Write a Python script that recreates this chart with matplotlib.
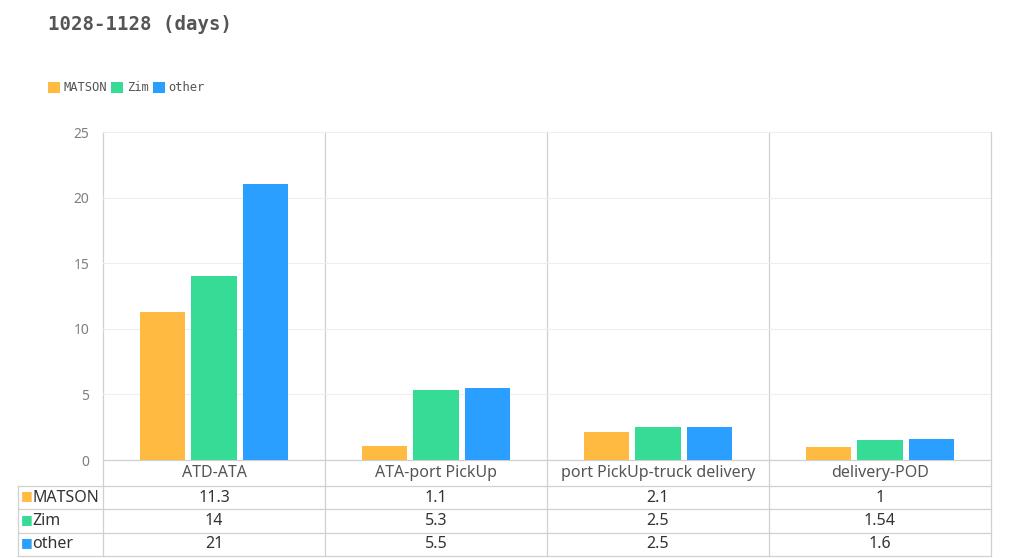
import numpy as np
import matplotlib
matplotlib.use("Agg")
import matplotlib.pyplot as plt
import matplotlib.transforms as mtransforms

# data
categories = ["ATD-ATA", "ATA-port PickUp", "port PickUp-truck delivery", "delivery-POD"]
series_names = ["MATSON", "Zim", "other"]
matson = [11.3, 1.1, 2.1, 1]
zim = [14, 5.3, 2.5, 1.54]
other = [21, 5.5, 2.5, 1.6]
table_text = [["11.3", "1.1", "2.1", "1"],
              ["14", "5.3", "2.5", "1.54"],
              ["21", "5.5", "2.5", "1.6"]]
yticks = [0, 5, 10, 15, 20, 25]

colors = ["#FFBA41", "#36DB95", "#2A9FFF"]
W, H = 1019, 558

fig = plt.figure(figsize=(W / 100, H / 100), dpi=100)
ax = fig.add_axes([103 / W, 1 - 460 / H, 888 / W, 328 / H])

x = np.arange(len(categories))
offsets = [-0.23, 0.0, 0.23]
bw = 0.203
bars = []
for vals, off, c, name in zip([matson, zim, other], offsets, colors, series_names):
    b = ax.bar(x + off, vals, width=bw, color=c, label=name, zorder=3)
    bars.append(b)

ax.set_xlim(-0.5, len(categories) - 0.5)
ax.set_ylim(0, 25)
ax.set_yticks(yticks)
ax.set_xticks([])
ax.tick_params(axis="y", length=0, pad=10, labelcolor="#7f7f7f", labelsize=10)
for lab in ax.get_yticklabels():
    lab.set_fontfamily("Noto Sans")
ax.grid(axis="y", color="#EEEEEE", linewidth=0.8, zorder=0)
for s in ax.spines.values():
    s.set_visible(False)

# table in axes-y coordinates
def ya(px):
    return (460 - px) / 328.0

line_c = "#D0D0D0"
trans = mtransforms.blended_transform_factory(ax.transData, ax.transAxes)
y_bottom = ya(556)
# vertical separators (plot + table)
for xb in np.arange(-0.5, len(categories), 1.0):
    ax.plot([xb, xb], [1, y_bottom], transform=trans, color=line_c, lw=0.9, clip_on=False, zorder=1)
# label column left edge
xl = (18 - 103) / 888.0
ax.plot([xl, xl], [ya(486), y_bottom], transform=ax.transAxes, color=line_c, lw=0.9, clip_on=False)
# horizontal lines
ax.plot([0, 1], [0, 0], transform=ax.transAxes, color=line_c, lw=0.9, clip_on=False)
for py in [486, 509, 533, 556]:
    ax.plot([xl, 1], [ya(py), ya(py)], transform=ax.transAxes, color=line_c, lw=0.9, clip_on=False)

txt_kw = dict(fontfamily="Noto Sans", fontsize=11.5, ha="center", va="center")
for i, cat in enumerate(categories):
    ax.text(i, ya(473), cat, transform=trans, color="#555555", **txt_kw)
row_centers = [497.5, 521, 544.5]
for r, (name, c) in enumerate(zip(series_names, colors)):
    yc = ya(row_centers[r])
    for i in range(len(categories)):
        ax.text(i, yc, table_text[r][i], transform=trans, color="#333333", **txt_kw)
    ax.text((21 - 103) / 888.0, ya(row_centers[r] - 1.5), "\u25A0", transform=ax.transAxes, color=c,
            fontsize=9, ha="left", va="center", fontfamily="DejaVu Sans")
    ax.text((32 - 103) / 888.0, yc, name, transform=ax.transAxes, color="#333333",
            fontfamily="Noto Sans", fontsize=11.5, ha="left", va="center")

# title
fig.text(48 / W, 1 - 25 / H, "1028-1128 (days)", fontfamily="DejaVu Sans Mono",
         fontweight="bold", fontsize=13.7, color="#555555", ha="left", va="center")

# legend
leg = fig.legend(handles=bars, labels=series_names, loc="center left",
                 bbox_to_anchor=(37 / W, 1 - 88 / H), ncol=3, frameon=False,
                 handlelength=1.0, handleheight=1.0, handletextpad=0.3,
                 columnspacing=0.35, prop={"family": "DejaVu Sans Mono", "size": 8.7})
for t in leg.get_texts():
    t.set_color("#555555")

fig.savefig("out.png", dpi=100)
